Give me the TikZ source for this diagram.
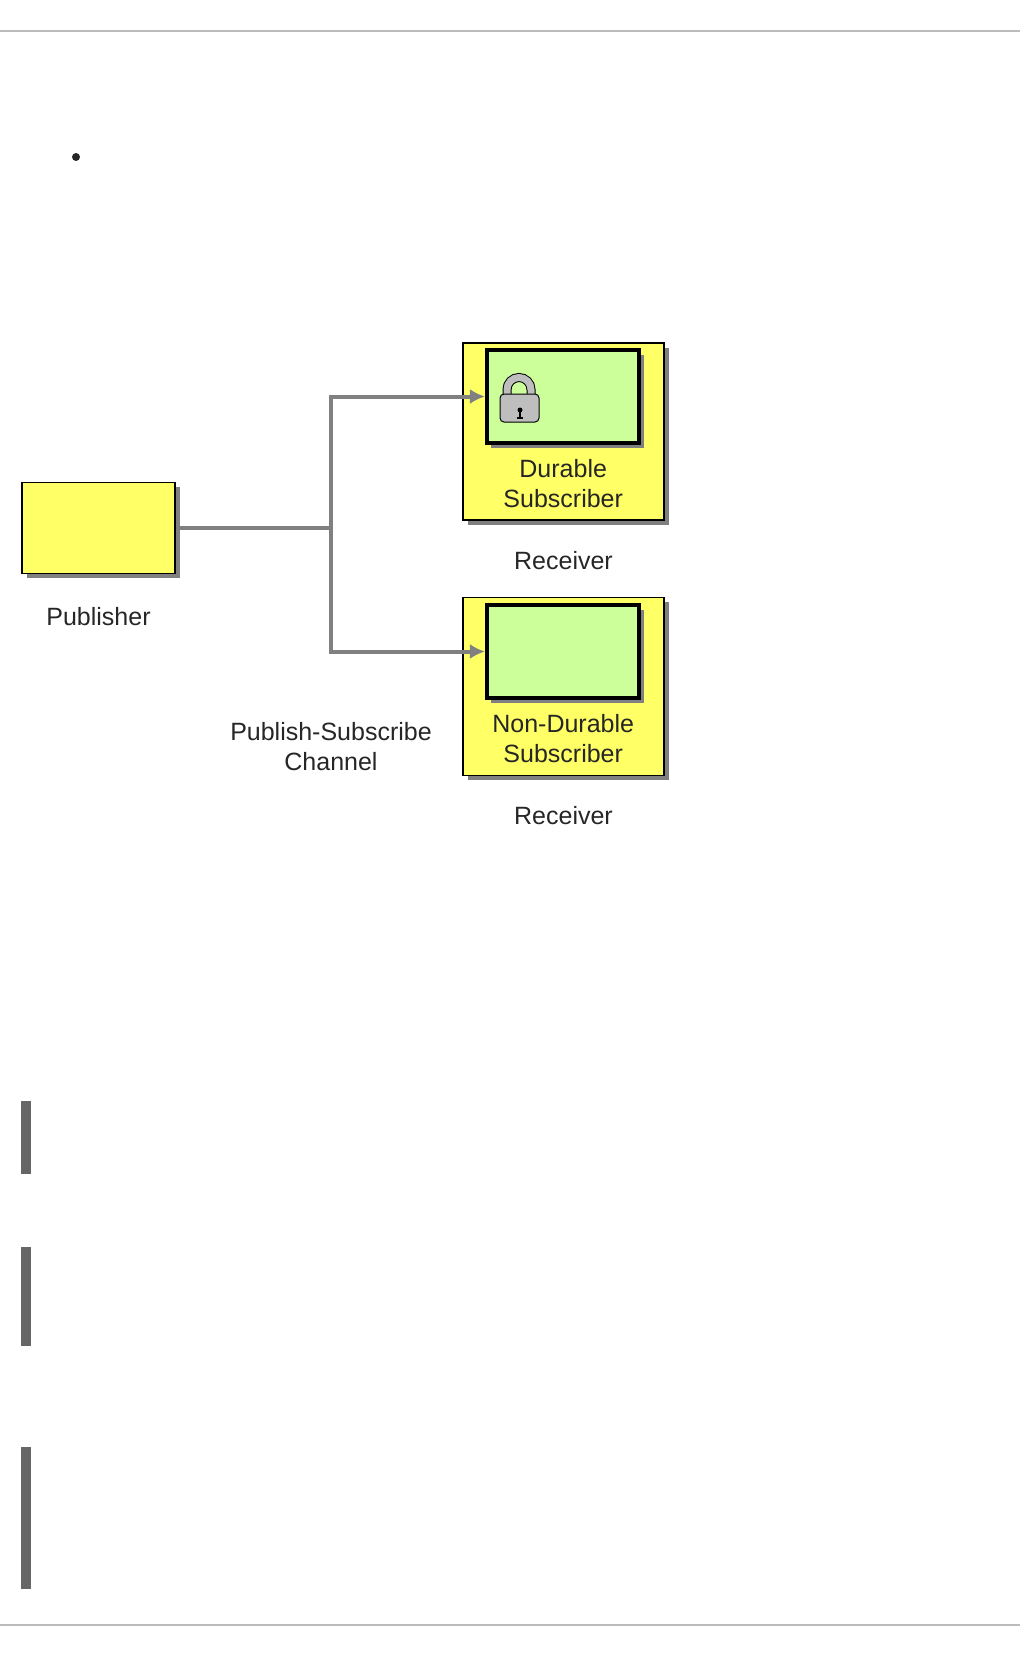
\documentclass[tikz,border=0pt]{standalone}
\usepackage{fontspec}
\setmainfont{Liberation Sans}
\usepackage{xcolor}
\usetikzlibrary{positioning,arrows.meta,shadows}
\definecolor{boxyellow}{HTML}{FFFF66}
\definecolor{boxgreen}{HTML}{CCFF99}
\definecolor{wiregray}{HTML}{808080}
\definecolor{rulegray}{HTML}{BBBBBB}
\definecolor{bargray}{HTML}{666666}
\definecolor{lockgray}{HTML}{BEBEBE}
\tikzset{
outerbox/.style={
draw=black,
line width=1.5pt,
fill=boxyellow,
inner sep=0pt,
drop shadow={shadow xshift=4.5pt,shadow yshift=-4.5pt,fill=wiregray,opacity=1}
},
innerbox/.style={
draw=black,
line width=4pt,
fill=boxgreen,
inner sep=0pt,
minimum width=152.5pt,
minimum height=93pt,
drop shadow={shadow xshift=4.5pt,shadow yshift=-4.5pt,fill=wiregray,opacity=1}
},
lbl/.style={
align=center,
inner sep=0pt,
text=black!85,
font=\fontsize{25}{30.6}\selectfont
},
wire/.style={
draw=wiregray,
line width=4pt
},
arrow/.style={
wire,
-{Latex[length=15pt,width=15pt]}
},
rulerline/.style={
draw=rulegray,
line width=1.6pt
},
bar/.style={
fill=bargray
}
}
\begin{document}
\begin{tikzpicture}[x=1pt,y=-1pt,node distance=5pt]
\useasboundingbox (0,0) rectangle (1020,1656);

\draw[rulerline](0,31)--(1020,31);
\draw[rulerline](0,1625)--(1020,1625);
\fill[black!85](76,157) circle (4);
\fill[bar](21,1101) rectangle (31,1174);
\fill[bar](21,1247) rectangle (31,1346);
\fill[bar](21,1447) rectangle (31,1589);

\node[outerbox,minimum width=153pt,minimum height=91pt](publisher) at (98.5,528){};
\node[outerbox,minimum width=201pt,minimum height=177pt](durable) at (563.5,431.5){};
\node[innerbox](durablein) at (563.2,396.5){};
\node[outerbox,minimum width=201pt,minimum height=178pt](nondurable) at (563.5,686.5){};
\node[innerbox](nondurablein) at (563.2,651.5){};

\node[lbl,below=33pt of publisher](publisherlbl){Publisher};
\node[lbl,below=14pt of durablein](durabletxt){Durable\\Subscriber};
\node[lbl,below=14pt of nondurablein](nondurabletxt){Non-Durable\\Subscriber};
\node[lbl,below=30pt of durable](receivera){Receiver};
\node[lbl,below=30pt of nondurable](receiverb){Receiver};
\node[lbl](channel) at (331,746.5){Publish-Subscribe\\Channel};

\coordinate(junction) at (331,528);
\draw[wire](publisher.east)--(junction);
\draw[arrow](junction)|-(durablein.west);
\draw[arrow](junction)|-(nondurablein.west);

% padlock
\draw[black,line width=9pt](507,396)--(507,389.5) arc (180:360:12)--(531,396);
\draw[lockgray,line width=7pt](507,396)--(507,389.5) arc (180:360:12)--(531,396);
\draw[black,line width=1pt,fill=lockgray,rounded corners=4pt](500,394) rectangle (539,422);
\fill[black](520,410) circle (2.5);
\fill[black](519,410) rectangle (521,418);
\fill[black](517,417) rectangle (523,419);
\end{tikzpicture}
\end{document}
